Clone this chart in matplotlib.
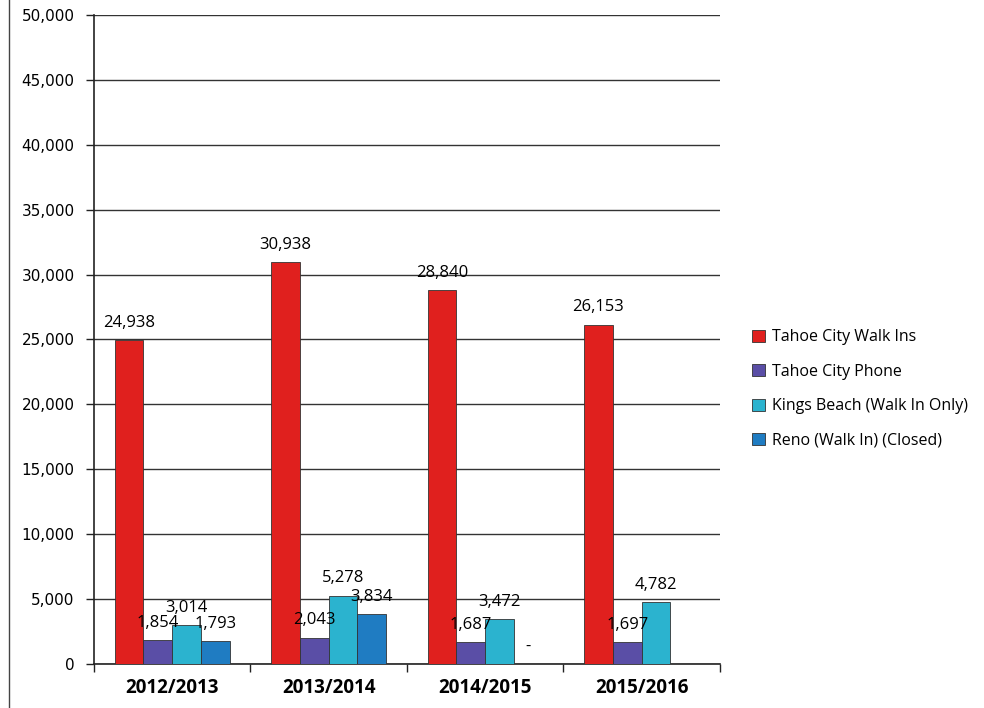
import numpy as np
import matplotlib.pyplot as plt
from matplotlib.lines import Line2D

years = ['2012/2013', '2013/2014', '2014/2015', '2015/2016']
series = ['Tahoe City Walk Ins', 'Tahoe City Phone', 'Kings Beach (Walk In Only)', 'Reno (Walk In) (Closed)']
walk_ins = [24938, 30938, 28840, 26153]
phone = [1854, 2043, 1687, 1697]
kings_beach = [3014, 5278, 3472, 4782]
reno = [1793, 3834, 0, np.nan]
colors = ['#e0201e', '#5a4ea6', '#2bb3cf', '#1f7cc2']

fig = plt.figure(figsize=(9.84, 7.08), dpi=100)
ax = fig.add_axes([0.0955, 0.062, 0.636, 0.917])

x = np.arange(len(years))
w = 0.184
label_font = {'family': 'Open Sans', 'size': 12}
for i, (vals, c) in enumerate(zip([walk_ins, phone, kings_beach, reno], colors)):
    pos = x + (i - 1.5) * w
    ax.bar(pos, vals, w, color=c, edgecolor='#333333', linewidth=0.6, label=series[i], zorder=3)
    for p, v in zip(pos, vals):
        if np.isnan(v):
            continue
        txt = '-' if v == 0 else f'{v:,.0f}'
        ax.text(p, v + 700, txt, ha='center', va='bottom', fontdict=label_font, zorder=4)

ax.set_xlim(-0.5, 3.5)
ax.set_ylim(0, 50000)
ax.set_yticks(np.arange(0, 50001, 5000))
ax.set_yticklabels([f'{v:,}' for v in range(0, 50001, 5000)], fontsize=11)
ax.set_xticks(x)
ax.set_xticklabels(years, fontsize=13.5, fontweight='bold', family='Open Sans')
ax.set_xticks(np.arange(-0.5, 4.0, 1.0), minor=True)
ax.tick_params(axis='x', which='major', length=0, pad=10)
ax.tick_params(axis='x', which='minor', length=6, width=1, color='#222222')
ax.tick_params(axis='y', length=6, width=1, color='#222222', pad=8)
ax.grid(axis='y', color='#333333', linewidth=1, zorder=0)
for s in ['top', 'right']:
    ax.spines[s].set_visible(False)
for s in ['left', 'bottom']:
    ax.spines[s].set_color('#222222')
    ax.spines[s].set_linewidth(1.2)

handles = [plt.Rectangle((0, 0), 1, 1, facecolor=c, edgecolor='#333333', linewidth=0.6) for c in colors]
fig.legend(handles, series, loc='upper left', bbox_to_anchor=(0.75, 0.555), frameon=False,
           prop={'family': 'Open Sans', 'size': 11.5}, handlelength=0.8, handleheight=0.8,
           handletextpad=0.4, labelspacing=1.15)

fig.add_artist(Line2D([0.009, 0.009], [0.0, 1.0], color='#444444', linewidth=1, transform=fig.transFigure))

fig.savefig('out.png', dpi=100)
